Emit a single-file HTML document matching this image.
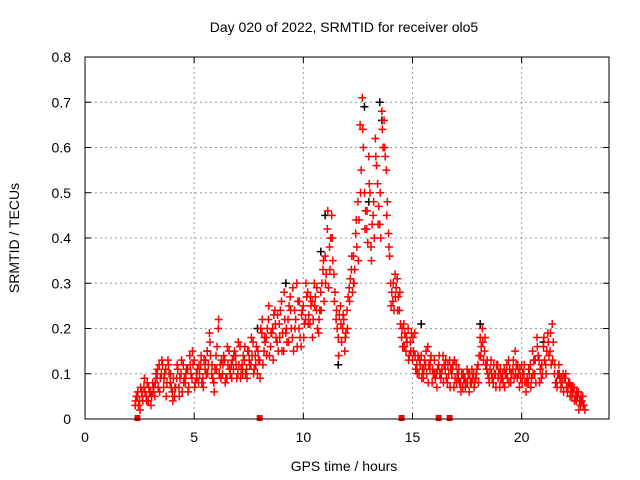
<!DOCTYPE html>
<html><head><meta charset="utf-8"><style>
body{margin:0;background:#fff}
svg{display:block;font-family:"Liberation Sans",sans-serif}
</style></head><body>
<svg id="chart" width="640" height="480" viewBox="0 0 640 480" xmlns="http://www.w3.org/2000/svg">
<rect width="640" height="480" fill="#fff"/>
<text x="344" y="32" font-size="14" text-anchor="middle">Day 020 of 2022, SRMTID for receiver olo5</text>
<text x="344" y="471" font-size="14" text-anchor="middle">GPS time / hours</text>
<text transform="translate(19,238) rotate(-90)" font-size="14" text-anchor="middle">SRMTID / TECUs</text>
<g id="grid"></g>
<g id="ticks"></g>
<g id="black"></g>
<g id="red"></g>
<rect x="85" y="57" width="524" height="362" fill="none" stroke="#000" stroke-width="1"/>
</svg>
<script>
const xTicks=[0,5,10,15,20];
const yTicks=[0,0.1,0.2,0.3,0.4,0.5,0.6,0.7,0.8];
const yLabels=["0","0.1","0.2","0.3","0.4","0.5","0.6","0.7","0.8"];
const redStart=2.3;
const redValues=[.03,.05,.04,.06,.07,.05,.04,.06,.08,.05,
.09,.12,.1,.07,.11,.13,.08,.06,.05,.09,
.07,.1,.12,.08,.11,.14,.09,.13,.1,.08,
.12,.09,.11,.15,.19,.1,.08,.14,.2,.12,
.1,.13,.09,.15,.12,.11,.14,.1,.16,.12,
.13,.11,.15,.12,.17,.14,.1,.13,.19,.15,
.18,.22,.16,.2,.24,.17,.21,.26,.15,.19,
.22,.27,.18,.24,.3,.2,.16,.25,.22,.28,
.21,.26,.3,.24,.19,.28,.33,.36,.42,.38,
.45,.32,.22,.18,.25,.2,.15,.24,.29,.33,
.36,.41,.48,.65,.71,.5,.42,.58,.38,.45,
.62,.52,.43,.68,.66,.55,.41,.3,.26,.32,
.31,.24,.18,.21,.15,.2,.17,.13,.19,.12,
.1,.14,.09,.12,.16,.11,.08,.13,.1,.12,
.09,.14,.11,.08,.13,.1,.07,.12,.09,.08,
.07,.09,.11,.06,.08,.1,.09,.12,.18,.2,
.15,.11,.09,.13,.08,.1,.12,.07,.09,.11,
.1,.13,.08,.11,.15,.09,.07,.12,.1,.06,
.08,.12,.15,.1,.18,.13,.09,.16,.12,.19,
.15,.21,.1,.08,.12,.07,.1,.09,.06,.08,
.05,.07,.04,.06,.03,.05,.02];
const red2Start=2.35;
const red2Values=[.05,.03,.07,.04,.06,.08,.06,.05,.07,.1,
.07,.09,.12,.1,.08,.1,.07,.09,.07,.11,
.09,.06,.09,.11,.07,.1,.12,.08,.11,.1,
.08,.13,.1,.12,.14,.09,.11,.16,.1,.13,
.14,.09,.12,.1,.13,.15,.09,.12,.11,.14,
.1,.15,.12,.14,.11,.16,.13,.2,.12,.17,
.2,.14,.19,.23,.18,.15,.24,.19,.22,.17,
.25,.2,.15,.22,.26,.18,.24,.21,.27,.23,
.25,.22,.27,.2,.24,.3,.26,.32,.29,.4,
.35,.28,.2,.23,.17,.22,.19,.27,.31,.28,
.33,.38,.44,.55,.6,.46,.39,.5,.43,.4,
.56,.47,.4,.6,.58,.48,.36,.28,.24,.29,
.27,.21,.16,.19,.17,.14,.19,.15,.11,.14,
.12,.11,.13,.1,.12,.14,.1,.09,.11,.1,
.11,.12,.09,.1,.11,.12,.09,.1,.08,.1,
.09,.08,.1,.08,.09,.08,.11,.14,.16,.13,
.12,.1,.11,.09,.1,.12,.1,.09,.08,.1,
.09,.11,.1,.09,.12,.1,.09,.1,.08,.09,
.1,.09,.13,.08,.14,.11,.1,.13,.15,.14,
.12,.17,.08,.1,.09,.08,.09,.07,.08,.07,
.06,.05,.05,.04,.04,.03];
const red3Start=2.32;
const red3Values=[.04,.06,.02,.05,.09,.04,.07,.03,.06,.08,
.11,.06,.13,.09,.05,.12,.1,.04,.07,.12,
.05,.13,.08,.1,.06,.12,.15,.07,.09,.12,
.14,.07,.13,.1,.17,.12,.06,.11,.22,.09,
.12,.08,.16,.11,.09,.14,.12,.17,.09,.1,
.16,.09,.13,.18,.1,.12,.15,.09,.22,.18,
.14,.25,.19,.13,.21,.23,.18,.15,.28,.2,
.17,.24,.29,.2,.16,.26,.23,.18,.3,.21,
.27,.18,.25,.29,.22,.24,.35,.3,.46,.33,
.4,.26,.24,.14,.21,.23,.18,.2,.26,.36,
.3,.44,.35,.5,.64,.42,.46,.52,.35,.48,
.58,.43,.5,.64,.6,.45,.38,.25,.3,.27,
.24,.28,.2,.16,.18,.13,.15,.18,.14,.1,
.13,.09,.11,.15,.08,.13,.11,.1,.07,.14,
.1,.08,.13,.12,.07,.11,.13,.08,.11,.06,
.1,.07,.08,.1,.11,.07,.1,.08,.14,.17,
.18,.13,.08,.1,.12,.07,.09,.11,.1,.07,
.12,.08,.1,.13,.1,.12,.11,.08,.12,.08,
.11,.07,.1,.13,.16,.08,.12,.18,.1,.17,
.19,.13,.12,.07,.1,.09,.06,.1,.07,.05,
.07,.04,.06,.02,.05,.03];
const blackTimes=[9.2,10.8,11.0,11.6,12.3,12.8,13.0,13.5,13.6,15.4,18.1,21.0,3.3,5.6,7.9];
const blackValues=[.3,.37,.45,.12,.3,.69,.48,.7,.66,.21,.21,.17,.1,.15,.2];
const zeroTimes=[2.4,8.0,14.5,16.2,16.7];
const NS='http://www.w3.org/2000/svg';
const X=h=>85+h*524/24;
const Y=v=>419-v*362/0.8;
function mk(tag,attrs,parent){const e=document.createElementNS(NS,tag);for(const k in attrs)e.setAttribute(k,attrs[k]);parent.appendChild(e);return e;}
const grid=document.getElementById('grid'),ticks=document.getElementById('ticks');
xTicks.forEach(t=>{
  if(t>0){const l=mk('line',{x1:X(t),x2:X(t),y1:57,y2:419,stroke:'#999','stroke-dasharray':'2,3'},grid);
  
  }
  mk('line',{x1:X(t),x2:X(t),y1:419,y2:413,stroke:'#000'},ticks);
  mk('line',{x1:X(t),x2:X(t),y1:57,y2:63,stroke:'#000'},ticks);
  const tx=mk('text',{x:X(t),y:442,'font-size':14,'text-anchor':'middle'},ticks);tx.textContent=t;
  
  
});
yTicks.forEach((t,i)=>{
  if(t>0&&t<0.8){const l=mk('line',{x1:85,x2:609,y1:Y(t),y2:Y(t),stroke:'#999','stroke-dasharray':'2,3'},grid);
  
  }
  mk('line',{x1:85,x2:91,y1:Y(t),y2:Y(t),stroke:'#000'},ticks);
  mk('line',{x1:603,x2:609,y1:Y(t),y2:Y(t),stroke:'#000'},ticks);
  const tx=mk('text',{x:71,y:Y(t)+5,'font-size':14,'text-anchor':'end'},ticks);tx.textContent=yLabels[i];
  
  
});
function plus(g,h,v,c){const x=X(h),y=Y(v);
  const p=mk('path',{d:`M${x-4},${y}H${x+4}M${x},${y-4}V${y+4}`,stroke:c,'stroke-width':1.5,fill:'none'},g);
  
  }
const bg=document.getElementById('black'),rg=document.getElementById('red');
blackTimes.forEach((h,i)=>plus(bg,h,blackValues[i],'#000'));
red3Values.forEach((v,i)=>plus(rg,red3Start+i*0.1,v,'#f00'));
red2Values.forEach((v,i)=>plus(rg,red2Start+i*0.1,v,'#f00'));
redValues.forEach((v,i)=>plus(rg,redStart+i*0.1,v,'#f00'));
zeroTimes.forEach(h=>{const r=mk('rect',{x:X(h)-3,y:415,width:6,height:6,fill:'#f00'},rg);
  
  });
</script>
</body></html>
